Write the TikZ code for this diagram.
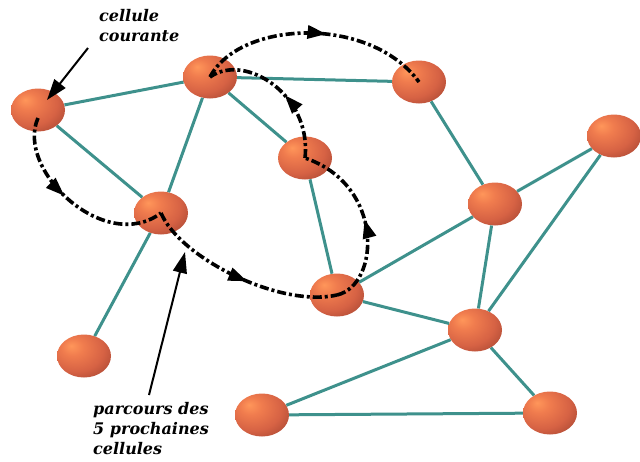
\documentclass[tikz,border=0pt]{standalone}
\usepackage{fontspec}
\newfontfamily\annotfont{DejaVu Serif}
\usetikzlibrary{shapes.geometric,arrows.meta,decorations.markings}
\definecolor{edgeteal}{RGB}{62,145,140}
\definecolor{cellhi}{RGB}{255,150,90}
\definecolor{cellhm}{RGB}{240,124,78}
\definecolor{cellmid}{RGB}{214,98,68}
\definecolor{celldm}{RGB}{160,66,48}
\definecolor{celldark}{RGB}{96,36,28}
\pgfdeclareradialshading{cellshade}{\pgfpoint{-12bp}{12bp}}{color(0bp)=(cellhi); color(10bp)=(cellhm); color(26bp)=(cellmid); color(42bp)=(celldm); color(56bp)=(celldark); color(75bp)=(celldark)}
\tikzset{
  cell/.style={ellipse, minimum width=54pt, minimum height=43pt, inner sep=0pt, shading=cellshade},
  link/.style={draw=edgeteal, line width=3pt},
  tour/.style={line width=3.6pt, dash pattern=on 9pt off 3pt on 3pt off 3pt,
    decoration={markings, mark=at position #1 with {\arrow{Triangle[length=19pt,width=13pt]}}},
    postaction={decorate}},
  tour/.default=0.5,
  pointer/.style={line width=2pt, -{Triangle[length=21pt,width=14pt]}},
  annot/.style={font=\annotfont\fontsize{16}{20}\selectfont\bfseries\itshape, align=left, inner sep=0pt}
}
\begin{document}
\begin{tikzpicture}[x=1pt,y=-1pt]
\useasboundingbox (0,0) rectangle (640,461);
% cells
\node[cell] (A) at (38,110) {};
\node[cell] (B) at (210,77) {};
\node[cell] (C) at (305,158) {};
\node[cell] (D) at (419,82) {};
\node[cell] (E) at (161,213) {};
\node[cell] (F) at (614,136) {};
\node[cell] (G) at (495,204) {};
\node[cell] (H) at (337,295) {};
\node[cell] (I) at (475,330) {};
\node[cell] (J) at (84,356) {};
\node[cell] (K) at (262,415) {};
\node[cell] (L) at (550,413) {};
% links
\draw[link] (A) -- (B);
\draw[link] (A) -- (E);
\draw[link] (B) -- (E);
\draw[link] (B) -- (C);
\draw[link] (B) -- (D);
\draw[link] (C) -- (H);
\draw[link] (E) -- (J);
\draw[link] (H) -- (G);
\draw[link] (H) -- (I);
\draw[link] (D) -- (G);
\draw[link] (G) -- (F);
\draw[link] (G) -- (I);
\draw[link] (F) -- (I);
\draw[link] (I) -- (K);
\draw[link] (K) -- (L);
\draw[link] (I) -- (L);
% tour of the next cells
\draw[tour=0.45] ([yshift=-8pt]A.center) .. controls (15,170) and (105,255) .. (E.center);
\draw[tour=0.55] (E.center) .. controls (180,258) and (280,308) .. (H.center);
\draw[tour=0.5] (H.center) .. controls (380,285) and (385,185) .. (C.center);
\draw[tour=0.45] (C.center) .. controls (312,95) and (245,52) .. (B.center);
\draw[tour=0.55] (B.center) .. controls (240,20) and (370,15) .. (D.center);
% annotations
\node[annot, anchor=north west] (cc) at (99,9) {cellule\\courante};
\coordinate (ccTail) at (88,48);
\coordinate (ccTip) at (47,100);
\draw[pointer] (ccTail) -- (ccTip);
\node[annot, anchor=north west] (pc) at (93,402) {parcours des\\5 prochaines\\cellules};
\coordinate (pcTail) at (149,395);
\coordinate (pcTip) at (185,252);
\draw[pointer] (pcTail) -- (pcTip);
\end{tikzpicture}
\end{document}
